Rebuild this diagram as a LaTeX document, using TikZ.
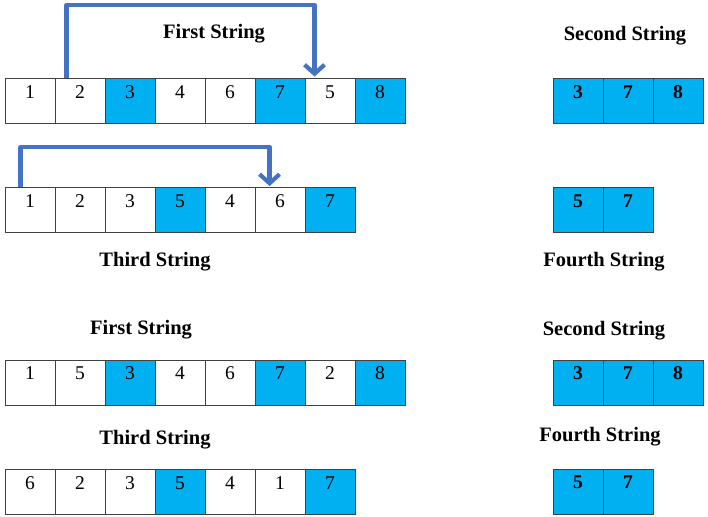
\documentclass[tikz,border=0pt]{standalone}
\usepackage{fontspec}
\setmainfont{Liberation Serif}
\usetikzlibrary{calc,arrows.meta}
\definecolor{cblue}{HTML}{00B0F0}
\definecolor{abl}{HTML}{4472C4}
\definecolor{edge}{HTML}{404040}
\tikzset{
  cell/.style={draw=edge,line width=0.9pt,minimum width=50pt,minimum height=45pt,inner sep=0pt},
  digit/.style={font=\fontsize{19.5}{22}\selectfont,inner sep=0pt,anchor=base},
  bdigit/.style={font=\fontsize{19.5}{22}\selectfont\bfseries,inner sep=0pt,anchor=base},
  title/.style={font=\fontsize{20.5}{24}\selectfont\bfseries,inner sep=0pt},
  jump/.style={draw=abl,line width=4.2pt,line join=round,-{Straight Barb[length=9pt,width=20pt,line width=4.2pt]}}
}
\begin{document}
\begin{tikzpicture}[x=1pt,y=-1pt]
\useasboundingbox (0,0) rectangle (708,516);
% Row A
\foreach \v/\f [count=\i] in {1/white,2/white,3/cblue,4/white,6/white,7/cblue,5/white,8/cblue}{
  \node[cell,fill=\f] (a\i) at ({50*\i-20},100.5) {};
  \node[digit] (ad\i) at ($(a\i.north)+(0,21)$) {\v};
}
% Row B
\foreach \v/\f [count=\i] in {1/white,2/white,3/white,5/cblue,4/white,6/white,7/cblue}{
  \node[cell,fill=\f] (b\i) at ({50*\i-20},210) {};
  \node[digit] (bd\i) at ($(b\i.north)+(0,20)$) {\v};
}
% Row C
\foreach \v/\f [count=\i] in {1/white,5/white,3/cblue,4/white,6/white,7/cblue,2/white,8/cblue}{
  \node[cell,fill=\f] (c\i) at ({50*\i-20},382.5) {};
  \node[digit] (cd\i) at ($(c\i.north)+(0,20)$) {\v};
}
% Row D
\foreach \v/\f [count=\i] in {6/white,2/white,3/white,5/cblue,4/white,1/white,7/cblue}{
  \node[cell,fill=\f] (d\i) at ({50*\i-20},492) {};
  \node[digit] (dd\i) at ($(d\i.north)+(0,20)$) {\v};
}
% Right boxes
\foreach \v [count=\i] in {3,7,8}{
  \node[cell,fill=cblue] (e\i) at ({553+50*\i-25},100.5) {};
  \node[bdigit] (ed\i) at ($(e\i.north)+(0,21)$) {\v};
}
\foreach \v [count=\i] in {5,7}{
  \node[cell,fill=cblue] (f\i) at ({553+50*\i-25},210) {};
  \node[bdigit] (fd\i) at ($(f\i.north)+(0,20)$) {\v};
}
\foreach \v [count=\i] in {3,7,8}{
  \node[cell,fill=cblue] (g\i) at ({553+50*\i-25},382.5) {};
  \node[bdigit] (gd\i) at ($(g\i.north)+(0,20)$) {\v};
}
\foreach \v [count=\i] in {5,7}{
  \node[cell,fill=cblue] (h\i) at ({553+50*\i-25},491.5) {};
  \node[bdigit] (hd\i) at ($(h\i.north)+(0,20)$) {\v};
}
% Titles
\node[title] (t1) at (214,33.5) {First String};
\node[title] (t2) at (625,35.5) {Second String};
\node[title] (t3) at (155,261.5) {Third String};
\node[title] (t4) at (604,261.5) {Fourth String};
\node[title] (t5) at (141,329.5) {First String};
\node[title] (t6) at (604,330.5) {Second String};
\node[title] (t7) at (155,439.5) {Third String};
\node[title] (t8) at (600,436.5) {Fourth String};
% Jumps
\coordinate (s1) at ($(a2.north west)+(12,0)$);
\coordinate (e1) at ($(a7.north west)+(10,-1)$);
\draw[jump] (s1) -- (s1 |- 0,5) -- (e1 |- 0,5) -- (e1);
\coordinate (s2) at ($(b1.north west)+(16,0)$);
\coordinate (e2) at ($(b6.north west)+(15,-1)$);
\draw[jump] (s2) -- (s2 |- 0,147) -- (e2 |- 0,147) -- (e2);
\end{tikzpicture}
\end{document}
